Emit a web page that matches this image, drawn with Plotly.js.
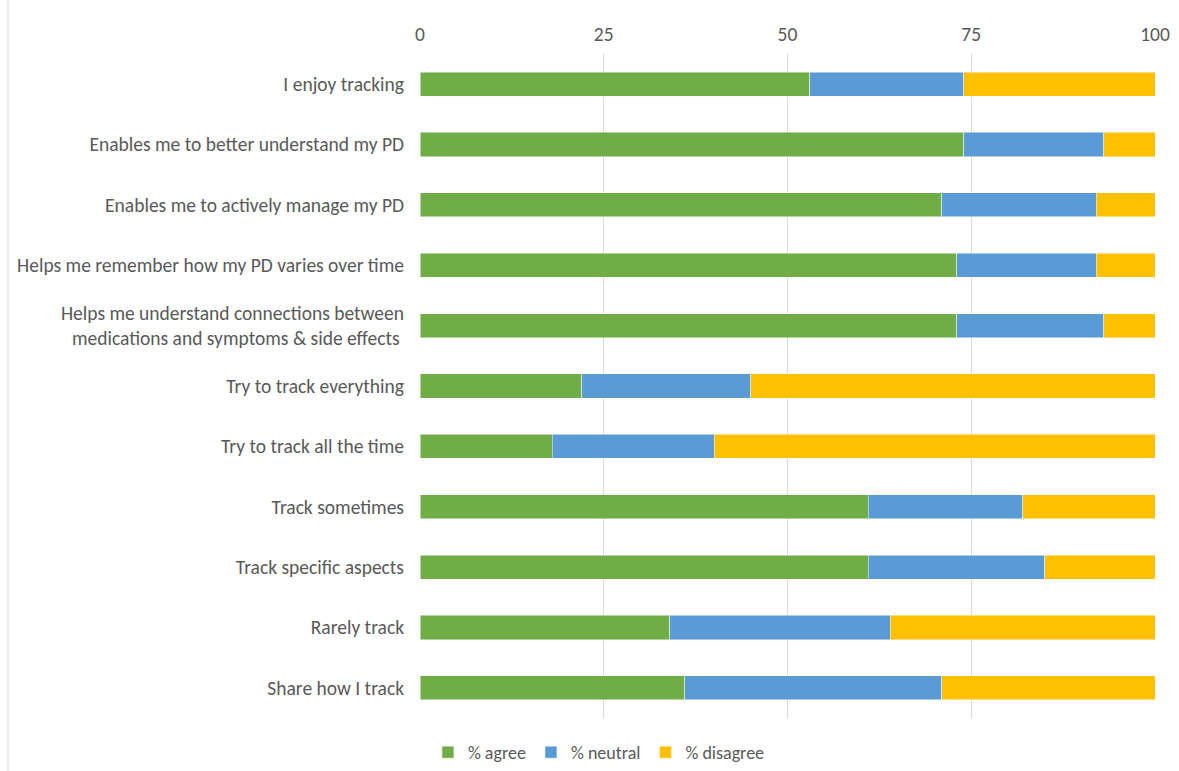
<!DOCTYPE html>
<html>
<head>
<meta charset="utf-8">
<script src="https://cdn.plot.ly/plotly-3.0.1.min.js"></script>
<style>html,body{margin:0;padding:0;background:#fff;}#chart{width:1179px;height:771px;}</style>
</head>
<body>
<div id="chart"></div>
<script>
const categories = [
  "I enjoy tracking",
  "Enables me to better understand my PD",
  "Enables me to actively manage my PD",
  "Helps me remember how my PD varies over time",
  "Helps me understand connections between<br>medications and symptoms & side effects ",
  "Try to track everything",
  "Try to track all the time",
  "Track sometimes",
  "Track specific aspects",
  "Rarely track",
  "Share how I track"
];
const agree    = [53, 74, 71, 73, 73, 22, 18, 61, 61, 34, 36];
const neutral  = [21, 19, 21, 19, 20, 23, 22, 21, 24, 30, 35];
const disagree = [26,  7,  8,  8,  7, 55, 60, 18, 15, 36, 29];
const seriesNames = ["% agree", "% neutral", "% disagree"];
const colors = ["#70AD47", "#5B9BD5", "#FFC000"];
const tickVals = [0, 25, 50, 75, 100];

const series = [agree, neutral, disagree];
const traces = series.map((vals, i) => ({
  type: "bar",
  orientation: "h",
  name: seriesNames[i],
  y: categories,
  x: vals,
  marker: { color: colors[i], line: { color: "rgba(255,255,255,0.6)", width: 0.8 } },
  hoverinfo: "x+y+name"
}));

const FS = 19.5;
const layout = {
  width: 1179,
  height: 771,
  barmode: "stack",
  bargap: 0.6,
  paper_bgcolor: "#ffffff",
  plot_bgcolor: "#ffffff",
  font: { family: "Carlito, Lato, 'Liberation Sans', sans-serif", size: FS, color: "#595959" },
  margin: { l: 420, r: 24, t: 54, b: 53 },
  showlegend: true,
  legend: {
    orientation: "h",
    xref: "container",
    yref: "container",
    x: 0.508,
    xanchor: "center",
    y: 0.0,
    yanchor: "bottom",
    font: { size: 18, color: "#595959" },
    itemwidth: 30,
    traceorder: "normal"
  },
  xaxis: {
    side: "top",
    range: [0, 100],
    tickvals: tickVals,
    ticktext: tickVals.map(String),
    showgrid: true,
    gridcolor: "#D9D9D9",
    gridwidth: 1,
    zeroline: false,
    showline: false,
    ticks: "",
    tickfont: { size: FS, color: "#595959" },
    ticklabelstandoff: 8,
    fixedrange: true
  },
  yaxis: {
    autorange: "reversed",
    showgrid: false,
    zeroline: false,
    showline: false,
    ticks: "",
    tickfont: { size: FS, color: "#595959" },
    ticklabelstandoff: 15,
    fixedrange: true
  },
  shapes: [{
    type: "line", xref: "paper", yref: "paper",
    x0: -412/735, x1: -412/735, y0: -0.09, y1: 1.09,
    line: { color: "#D9D9D9", width: 1 }
  }]
};

Plotly.newPlot("chart", traces, layout, { displayModeBar: false, staticPlot: true });
</script>
</body>
</html>
